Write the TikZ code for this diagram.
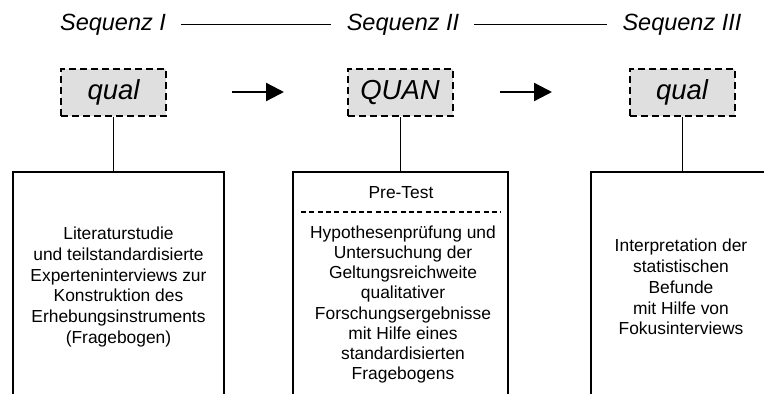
\documentclass[tikz,border=0pt]{standalone}
\usepackage{fontspec}
\setmainfont{Liberation Sans}
\usetikzlibrary{arrows.meta}
\definecolor{qfill}{RGB}{223,223,223}
\tikzset{
  qbox/.style={draw, fill=qfill, line width=2pt, dash pattern=on 7pt off 4pt,
    minimum width=105pt, minimum height=47pt, inner sep=0pt,
    font=\fontsize{27.5}{30}\selectfont\itshape},
  seqlabel/.style={inner sep=0pt, font=\fontsize{23.5}{28}\selectfont\itshape},
  bigbox/.style={draw, line width=1.2pt, inner sep=0pt},
  bodytext/.style={align=center, inner sep=0pt, font=\fontsize{17.4}{20.8}\selectfont},
  thinline/.style={line width=1pt},
  bigarrow/.style={line width=2.3pt, -{Triangle[length=18pt,width=18pt]}}
}
\begin{document}
\begin{tikzpicture}[x=1pt,y=-1pt]
\useasboundingbox (0,0) rectangle (764,394);
\clip (0,0) rectangle (764,394);
% sequence labels
\node[seqlabel] (s1) at (113,25) {Sequenz I};
\node[seqlabel] (s2) at (403,25) {Sequenz II};
\node[seqlabel] (s3) at (682,25) {Sequenz III};
\coordinate (l1a) at (181,24); \coordinate (l1b) at (331,24);
\coordinate (l2a) at (474,24); \coordinate (l2b) at (607,24);
\draw[thinline] (l1a) -- (l1b);
\draw[thinline] (l2a) -- (l2b);
% method boxes
\node[qbox] (q1) at (113.5,92) {qual};
\node[qbox] (q2) at (400,92.5) {QUAN};
\node[qbox] (q3) at (682,92) {qual};
% arrows
\coordinate (a1a) at (232,92); \coordinate (a1b) at (284,92);
\coordinate (a2a) at (500,92); \coordinate (a2b) at (552,92);
\draw[bigarrow] (a1a) -- (a1b);
\draw[bigarrow] (a2a) -- (a2b);
% big boxes (cut off at bottom)
\node[bigbox, minimum width=211pt, minimum height=260pt] (b1) at (118.5,302) {};
\node[bigbox, minimum width=215pt, minimum height=260pt] (b2) at (400.5,302) {};
\node[bigbox, minimum width=182pt, minimum height=260pt] (b3) at (682,302) {};
% connectors
\draw[thinline] (q1.south) -- (q1.south |- b1.north);
\draw[thinline] (q2.south) -- (q2.south |- b2.north);
\draw[thinline] (q3.south) -- (q3.south |- b3.north);
% texts
\node[bodytext] (t1) at (118.5,287) {Literaturstudie\\und teilstandardisierte\\Experteninterviews zur\\Konstruktion des\\Erhebungsinstruments\\(Fragebogen)};
\node[bodytext] (pt) at (401,193) {Pre-Test};
\coordinate (d1) at (301,212); \coordinate (d2) at (501,212);
\draw[line width=1.6pt, dash pattern=on 5pt off 3.3pt] (d1) -- (d2);
\node[bodytext, font=\fontsize{17.4}{20.1}\selectfont] (t2) at (403,304.5) {Hypothesenprüfung und\\Untersuchung der\\Geltungsreichweite\\qualitativer\\Forschungsergebnisse\\mit Hilfe eines\\standardisierten\\Fragebogens};
\node[bodytext] (t3) at (681,287) {Interpretation der\\statistischen\\Befunde\\mit Hilfe von\\Fokusinterviews};
\end{tikzpicture}
\end{document}
